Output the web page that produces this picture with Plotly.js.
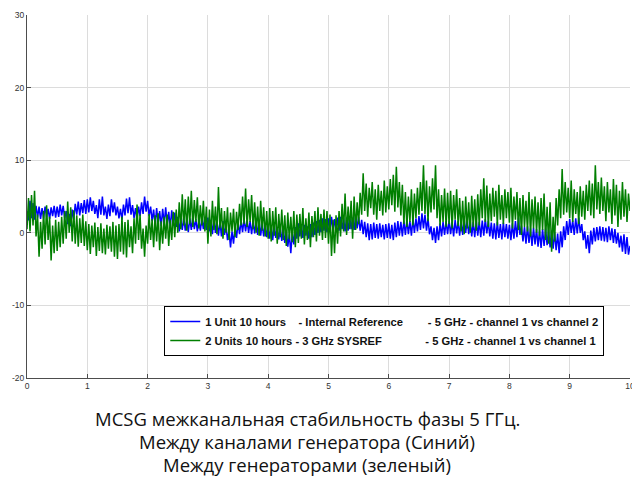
<!DOCTYPE html>
<html>
<head>
<meta charset="utf-8">
<script src="https://cdn.plot.ly/plotly-3.0.1.min.js"></script>
<style>
html,body{margin:0;padding:0;background:#fff;}
#chart{width:632px;height:479px;}
</style>
</head>
<body>
<div id="chart"></div>
<script>
// Time axis: 0..10 hours, sample step (hours)
var timeStart = 0;
var timeStep = 0.025;

// Blue: 1 Unit, channel 1 vs channel 2 (degrees)
var blueValues = [
 3.0, 1.7, 4.4, 2.0, 4.1, 1.8, 3.7, 2.1, 3.6, 1.9, 3.4, 2.0, 3.6, 2.2, 3.3, 1.9, 3.5, 2.3, 3.7, 2.1,
 3.6, 2.2, 3.9, 2.4, 3.7, 2.0, 3.0, 1.2, 2.6, 0.9, 3.2, 1.8, 4.0, 2.5, 4.3, 2.4, 4.1, 2.7, 4.5, 2.6,
 4.6, 2.8, 4.9, 3.0, 4.4, 2.6, 3.8, 2.0, 4.6, 2.5, 5.0, 2.4, 3.6, 1.9, 3.9, 2.3, 4.6, 2.8, 4.2, 2.4,
 3.6, 2.0, 3.3, 1.8, 3.9, 2.4, 4.7, 2.7, 4.9, 2.5, 3.8, 2.0, 3.4, 1.9, 3.6, 2.3, 4.2, 2.6, 5.0, 2.9,
 4.4, 2.3, 3.6, 1.6, 3.2, 1.0, 3.4, 1.3, 3.0, 0.9, 3.3, 1.2, 3.5, 1.1, 2.9, 0.8, 3.1, 1.0, 2.8, 0.8,
 2.2, 0.2, 1.9, 0.4, 2.1, 0.3, 1.8, 0.1, 2.0, 0.4, 2.2, 0.5, 1.9, 0.2, 1.7, 0.3, 2.0, 0.5, 2.2, 0.4,
 2.1, 0.2, 1.8, -0.2, 2.0, 0.0, 1.7, -0.4, 1.5, -0.5, 1.6, -0.3, 1.0, -1.0, 0.3, -2.0, 0.2, -1.5, 0.8, -0.7,
 1.4, -0.2, 1.7, 0.1, 1.9, 0.2, 1.8, 0.0, 1.6, -0.2, 1.7, -0.1, 1.5, -0.3, 1.6, -0.4, 1.3, -0.5, 1.2, -0.6,
 1.0, -0.8, 0.9, -1.0, 1.1, -0.7, 0.8, -0.9, 0.7, -1.1, 0.6, -1.4, 0.3, -1.9, -0.2, -2.8, 0.1, -1.6, 0.8, -0.8,
 1.3, -0.5, 1.2, -0.7, 1.1, -0.4, 0.9, -0.8, 1.2, -0.6, 1.4, -0.3, 1.6, 0.0, 1.8, 0.1, 2.0, 0.3, 1.9, 0.1,
 2.0, 0.2, 2.2, 0.4, 1.9, 0.1, 2.1, 0.3, 2.2, 0.5, 2.0, 0.2, 2.1, 0.3, 2.3, 0.5, 2.1, 0.4, 2.4, 0.6,
 2.2, 0.3, 1.8, -0.2, 1.5, -0.6, 1.3, -1.0, 1.2, -0.9, 1.4, -0.7, 1.2, -0.8, 1.3, -0.6, 1.1, -0.9, 1.2, -0.7,
 1.3, -0.8, 1.1, -1.0, 1.4, -0.6, 1.6, -0.4, 1.5, -0.5, 1.7, -0.3, 1.8, -0.2, 1.6, -0.4, 1.9, 0.0, 2.0, 0.2,
 2.3, 0.4, 2.7, 0.6, 2.5, 0.3, 2.0, -0.2, 0.9, -1.0, 0.7, -1.4, 0.9, -1.0, 1.3, -0.5, 1.5, -0.3, 1.6, -0.2,
 1.7, -0.2, 1.5, -0.5, 1.8, -0.1, 1.6, -0.4, 1.7, -0.3, 1.9, 0.0, 1.8, -0.2, 1.6, -0.5, 1.5, -0.6, 1.7, -0.4,
 1.5, -0.6, 1.7, -0.4, 1.9, -0.1, 1.6, -0.5, 1.4, -0.8, 1.3, -0.9, 1.5, -0.7, 1.2, -0.9, 1.4, -0.6, 1.2, -0.8,
 1.1, -1.0, 1.3, -0.8, 1.6, -0.6, 2.1, -0.3, 1.0, -1.2, 0.8, -1.5, 0.9, -1.4, 0.6, -1.8, 0.7, -1.6, 0.5, -1.9,
 0.3, -2.1, 0.5, -1.8, 0.6, -1.7, 0.4, -2.0, 0.3, -2.2, 0.1, -2.4, -0.1, -2.8, 0.2, -2.0, 0.9, -1.0, 1.6, -0.3,
 1.9, 0.0, 1.7, -0.3, 2.0, -0.1, 2.1, 0.0, 1.2, -1.0, 0.2, -2.2, -0.3, -2.8, 0.3, -1.6, 0.7, -1.2, 0.8, -1.0,
 0.9, -1.1, 0.8, -1.2, 0.7, -1.3, 0.9, -1.0, 0.6, -1.4, 0.5, -1.5, 0.0, -2.0, -0.4, -2.6, -0.2, -2.9, -0.6, -3.0,
 -1.8
];

// Green: 2 Units, channel 1 vs channel 1 (degrees)
var greenValues = [
 0.5, 4.8, 0.2, 5.2, 1.0, 5.8, -0.5, 2.5, -3.3, 1.5, -2.2, 3.0, -1.6, 3.8, -1.0, 2.2, -3.8, 1.0, -2.8, 1.8,
 -2.5, 1.5, -2.0, 2.2, -1.5, 3.0, -0.8, 4.3, 0.0, 3.5, -1.2, 3.1, -1.5, 2.4, -1.9, 2.0, -1.4, 2.5, -1.8, 1.6,
 -2.4, 1.2, -2.9, 1.0, -2.0, 1.4, -3.2, 0.8, -2.5, 1.3, -2.8, 0.6, -3.0, 1.1, -2.2, 0.9, -2.6, 1.5, -3.3, 1.0,
 -3.6, 1.2, -2.6, 2.2, -3.0, 1.5, -3.4, 1.8, -2.0, 0.9, -2.8, 2.0, -1.5, 3.9, -1.0, 2.5, -2.2, 0.6, -3.3, 1.0,
 -1.5, 2.6, -1.0, 1.9, -2.0, 2.4, -1.2, 2.7, -2.4, 1.6, -1.5, 2.2, -0.8, 2.5, -1.8, 1.8, -1.0, 2.9, -0.6, 3.2,
 0.0, 4.2, 0.5, 5.3, 1.0, 4.6, 0.3, 5.0, 1.2, 5.8, 0.8, 4.5, 1.5, 4.9, 0.6, 3.8, 1.0, 4.4, 0.2, 3.6,
 -1.5, 3.2, -0.5, 4.4, 0.4, 3.6, -0.2, 6.3, 0.6, 3.4, -0.8, 3.0, 0.0, 3.5, -1.0, 2.8, 0.2, 3.3, -0.6, 2.9,
 0.4, 4.0, 1.0, 5.0, 1.2, 6.1, 0.8, 4.6, 1.5, 5.2, 0.5, 4.2, 0.0, 3.6, -0.4, 4.4, 0.3, 3.5, -0.5, 3.0,
 -0.8, 3.4, -1.2, 3.0, -0.4, 3.5, -1.5, 2.6, -0.6, 3.2, -1.0, 2.4, -1.8, 2.8, -0.9, 2.2, -1.3, 3.0, -2.0, 2.5,
 -1.4, 2.6, -0.8, 3.4, -1.6, 2.0, -1.0, 2.8, -2.0, 2.3, -0.6, 3.0, -1.2, 3.5, -0.4, 2.6, -1.0, 3.2, -0.7, 3.0,
 -1.5, 2.5, -3.2, 1.8, -2.8, 2.4, -1.5, 3.0, -0.5, 4.0, 0.2, 5.4, -0.3, 3.6, 0.5, 4.4, -0.8, 5.0, 0.4, 4.2,
 1.2, 5.5, 2.5, 8.2, 3.0, 6.8, 2.2, 6.2, 3.4, 7.0, 2.5, 6.0, 1.8, 6.6, 3.0, 5.8, 2.4, 7.2, 2.8, 6.4,
 3.2, 7.4, 3.8, 8.0, 2.9, 9.1, 3.5, 7.0, 2.4, 6.6, 1.2, 5.6, 0.8, 5.0, 1.5, 6.0, 1.0, 5.4, 2.0, 6.2,
 2.5, 7.0, 3.0, 9.3, 2.6, 7.2, 1.6, 6.4, 2.8, 7.5, 3.2, 9.3, 2.0, 6.0, 1.0, 5.2, 1.5, 6.1, 0.8, 5.5,
 1.2, 5.8, 0.6, 5.2, 1.8, 6.0, 0.9, 4.8, 0.2, 4.4, -0.2, 5.0, 0.6, 4.2, 0.0, 5.1, 0.8, 4.6, 0.3, 5.3,
 1.0, 6.0, 2.0, 7.5, 1.5, 6.5, 0.8, 5.4, 1.6, 6.2, 2.2, 5.8, 1.0, 6.6, 1.8, 5.2, 1.2, 6.0, 2.0, 5.6,
 1.4, 6.2, 0.6, 5.0, 1.8, 5.6, 0.4, 4.8, -0.3, 5.2, 0.8, 4.4, 0.2, 5.6, -0.5, 4.6, 0.6, 5.0, 0.0, 4.2,
 -0.4, 4.8, 0.4, 5.4, -1.0, 3.6, -1.5, 4.2, -2.6, 2.2, -1.2, 4.8, 1.0, 6.0, 2.0, 8.8, 2.5, 7.0, 2.8, 6.2,
 2.0, 7.2, 1.5, 6.0, 2.6, 5.6, 1.2, 6.4, 2.2, 5.8, 1.8, 6.6, 3.0, 7.2, 2.4, 6.8, 2.0, 9.3, 3.2, 7.0,
 2.6, 7.6, 3.0, 6.4, 1.6, 7.0, 2.8, 6.0, 1.2, 7.4, 2.4, 6.6, 0.8, 5.8, 1.8, 7.0, 2.2, 6.0, 1.5, 5.4,
 3.0
];

var NB = '\u00a0';
function pad(n){ return new Array(n + 1).join(NB); }

var blueName = '1 Unit 10 hours' + pad(4) + '- Internal Reference' + pad(8) + '- 5 GHz - channel 1 vs channel 2';
var greenName = '2 Units 10 hours - 3 GHz SYSREF' + pad(14) + '- 5 GHz - channel 1 vs channel 1';

var xTicks = [0,1,2,3,4,5,6,7,8,9,10];
var yTicks = [-20,-10,0,10,20,30];

var captionLines = [
  'MCSG межканальная стабильность фазы 5 ГГц.',
  'Между каналами генератора (Синий)',
  'Между генераторами (зеленый)'
];

var traces = [
  {type:'scatter', mode:'lines', x0:timeStart, dx:timeStep, y:blueValues, name:blueName,
   line:{color:'#0000ff', width:1.5, simplify:false}},
  {type:'scatter', mode:'lines', x0:timeStart, dx:timeStep, y:greenValues, name:greenName,
   line:{color:'#007f00', width:1.5, simplify:false}}
];

var axisFont = {family:'Arial', size:8.5, color:'#333333'};

var layout = {
  width:632, height:479,
  margin:{l:26.5, r:1.5, t:15, b:101},
  paper_bgcolor:'#ffffff', plot_bgcolor:'#ffffff',
  font:{family:'Arial'},
  showlegend:true,
  xaxis:{range:[0,10], tickvals:xTicks, ticktext:xTicks.map(String), showgrid:true, gridcolor:'#dcdcdc', gridwidth:1,
    zeroline:false, showline:true, linecolor:'#4d4d4d', linewidth:1, ticks:'inside', ticklen:4, tickcolor:'#4d4d4d',
    tickfont:axisFont, fixedrange:true, ticklabeloverflow:'allow'},
  yaxis:{range:[-20,30], tickvals:yTicks, ticktext:yTicks.map(String), showgrid:true, gridcolor:'#dcdcdc', gridwidth:1,
    zeroline:false, showline:true, linecolor:'#4d4d4d', linewidth:1, ticks:'inside', ticklen:4, tickcolor:'#4d4d4d',
    tickfont:axisFont, fixedrange:true},
  legend:{x:(164-26.5)/604, y:(378-306)/363, xanchor:'left', yanchor:'top', bgcolor:'#ffffff', bordercolor:'#000000', borderwidth:1,
    font:{family:'Arial', size:11.2, color:'#111111', weight:'bold'},
    tracegroupgap:0, itemwidth:30},
  annotations: captionLines.map(function(t, i){
    return {text:t, xref:'paper', yref:'paper', x:(307-26.5)/604, y:-(418 + i*23 - 378)/363,
      xanchor:'center', yanchor:'middle', showarrow:false,
      font:{family:'Open Sans', size:18.5, color:'#111111'}};
  })
};

Plotly.newPlot('chart', traces, layout, {displayModeBar:false, staticPlot:true});
</script>
</body>
</html>
